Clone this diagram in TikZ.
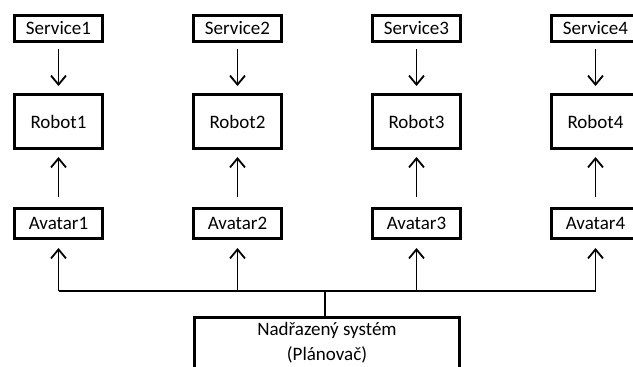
\documentclass[tikz,border=0pt]{standalone}
\usepackage{fontspec}
\setmainfont{Carlito}
\usetikzlibrary{arrows.meta}
\begin{document}
\begin{tikzpicture}[x=1pt,y=-1pt,
  box/.style={draw, line width=3.2pt, inner sep=0pt, minimum width=87.8pt, font=\fontsize{19}{23}\selectfont},
  svcbox/.style={box, minimum height=25.8pt},
  robbox/.style={box, minimum height=53.8pt},
  avbox/.style={box, minimum height=29.8pt},
  conn/.style={line width=1.8pt},
  arr/.style={conn, -{Straight Barb[length=9pt,width=15pt,line width=1.8pt]}}
]
\useasboundingbox (0,0) rectangle (633,367);
\clip (0,0) rectangle (633,367);
\foreach \i/\x in {1/58.5,2/237.5,3/416.5,4/595.5}{
  \node[svcbox] (s\i) at (\x,28.5) {Service\i};
  \node[robbox] (r\i) at (\x,121.5) {Robot\i};
  \node[avbox] (a\i) at (\x,223.5) {Avatar\i};
  \draw[arr, shorten <=6pt, shorten >=7pt] (s\i.south) -- (r\i.north);
  \draw[arr, shorten <=10pt, shorten >=7pt] (a\i.north) -- (r\i.south);
}
\coordinate (bus) at (0,291);
\node[draw, line width=3.2pt, inner sep=0pt, minimum width=265pt, minimum height=80pt, anchor=north] (plan) at (327,315.5) {};
\node[align=center, font=\fontsize{19}{25}\selectfont, inner sep=0pt] (planlabel) at (327,342.5) {Nadřazený systém\\(Plánovač)};
\draw[conn] (a1.south |- bus) -- (a4.south |- bus);
\foreach \i in {1,2,3,4}{
  \draw[arr, shorten >=8pt] (a\i.south |- bus) -- (a\i.south);
}
\draw[conn] ([xshift=-2pt]plan.north) -- ([xshift=-2pt]plan.north |- bus);
\end{tikzpicture}
\end{document}
